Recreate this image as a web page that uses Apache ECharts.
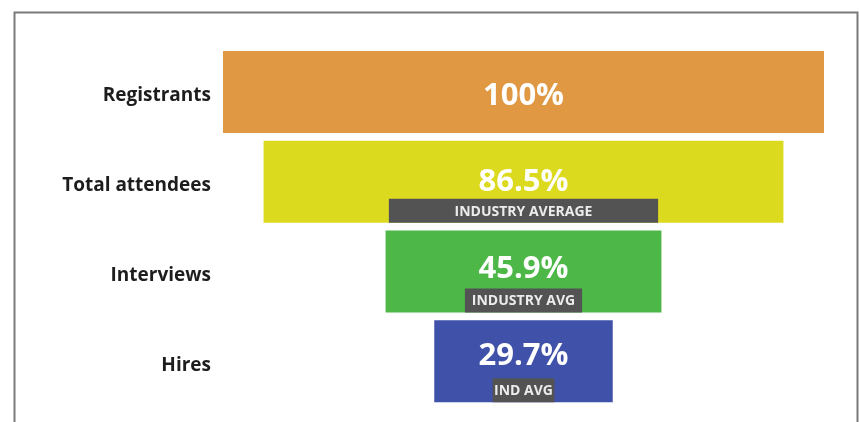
<!DOCTYPE html>
<html>
<head>
<meta charset="utf-8">
<script src="https://cdn.jsdelivr.net/npm/echarts@6/dist/echarts.min.js"></script>
<style>
html,body{margin:0;padding:0;background:#fff;}
#chart{width:859px;height:422px;}
</style>
</head>
<body>
<div id="chart"></div>
<script>
// ---- data ----
const categories = ['Registrants', 'Total attendees', 'Interviews', 'Hires'];
const funnelValues = [100, 86.5, 45.9, 29.7];
const industryValues = [null, 44.8, 19.5, 10.3];
const industryLabels = ['', 'INDUSTRY AVERAGE', 'INDUSTRY AVG', 'IND AVG'];

// ---- styles ----
const barColors = ['#E09843', '#DCDA1F', '#4DB748', '#3F51A8'];
const valueLabelShift = [4, 1, -2, -5];
const FONT = '"Open Sans", "Noto Sans", sans-serif';

const chart = echarts.init(document.getElementById('chart'), null, {renderer: 'canvas'});

const option = {
  animation: false,
  backgroundColor: '#ffffff',
  graphic: [{
    type: 'rect', left: 12, top: 10, silent: true,
    shape: {width: 843, height: 440},
    style: {fill: 'none', stroke: '#7a7a7a', lineWidth: 2}
  }],
  grid: {left: 223, right: 35, top: 47, height: 359},
  xAxis: {type: 'value', min: 0, max: 100, show: false, splitLine: {show: false}},
  yAxis: {
    type: 'category', data: categories, inverse: true,
    axisLine: {show: false}, axisTick: {show: false}, splitLine: {show: false},
    axisLabel: {
      margin: 12, color: '#1d1d1d', fontFamily: FONT,
      fontWeight: 'bold', fontSize: 19, verticalAlign: 'top', lineHeight: 8
    }
  },
  series: [
    {
      type: 'bar', stack: 'main', barWidth: 82, silent: true,
      itemStyle: {color: 'transparent'},
      data: funnelValues.map(v => (100 - v) / 2)
    },
    {
      type: 'bar', stack: 'main', barWidth: 82,
      data: funnelValues.map((v, i) => ({
        value: v,
        itemStyle: {color: barColors[i]},
        label: {offset: [0, valueLabelShift[i]]}
      })),
      label: {
        show: true, position: 'inside', formatter: '{c}%',
        color: '#ffffff', fontFamily: FONT, fontWeight: 'bold', fontSize: 31
      }
    },
    {
      type: 'custom',
      z: 5,
      encode: {y: 0, x: 1},
      data: industryValues
        .map((v, i) => v == null ? null : [categories[i], v, i])
        .filter(d => d !== null),
      renderItem: function (params, api) {
        const ci = api.value(0);
        const v = api.value(1);
        const idx = api.value(2);
        const p0 = api.coord([(100 - v) / 2, ci]);
        const p1 = api.coord([(100 + v) / 2, ci]);
        const top = p0[1] + 17;
        const h = 24;
        return {
          type: 'group',
          children: [
            {
              type: 'rect',
              shape: {x: p0[0], y: top, width: p1[0] - p0[0], height: h},
              style: {fill: '#535353'}
            },
            {
              type: 'text',
              style: {
                text: industryLabels[idx],
                x: (p0[0] + p1[0]) / 2, y: top + h / 2 + 1,
                align: 'center', verticalAlign: 'middle',
                fill: '#ececec', fontFamily: FONT, fontWeight: 'bold', fontSize: 14
              }
            }
          ]
        };
      }
    }
  ]
};
chart.setOption(option);
</script>
</body>
</html>
